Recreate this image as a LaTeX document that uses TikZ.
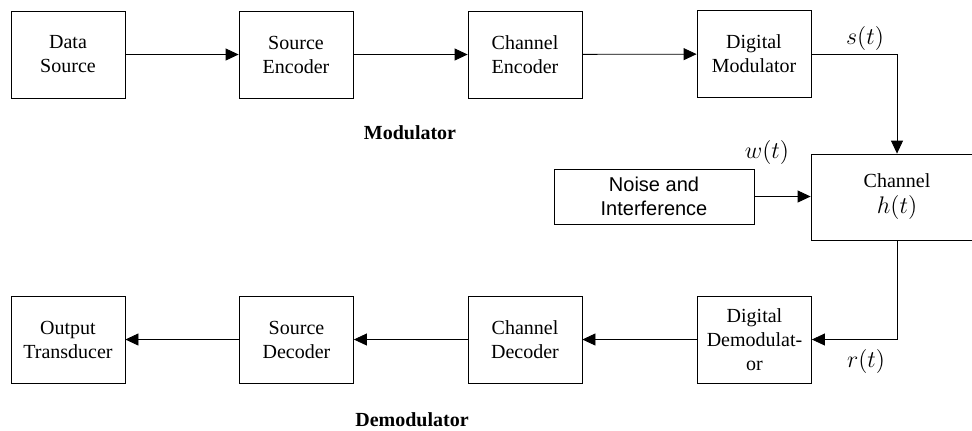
\documentclass[tikz,border=0pt]{standalone}
\usepackage[no-math]{fontspec}
\setmainfont{Liberation Serif}
\newfontfamily\noisefont{Liberation Sans}
\usetikzlibrary{arrows.meta}

\begin{document}
\begin{tikzpicture}
  [x=0.5pt,y=-0.5pt,>={Triangle[length=6.5pt,width=6pt]},
   blk/.style={draw,minimum width=57pt,minimum height=43.5pt,inner sep=0pt,align=center},
   sig/.style={font=\large}]
  \useasboundingbox (0,0) rectangle (972,430);

  \node[blk] (src)  at (68,54.5)   {Data\\Source};
  \node[blk] (senc) at (296,54.5)  {Source\\Encoder};
  \node[blk] (cenc) at (525,54.5)  {Channel\\Encoder};
  \node[blk] (mod)  at (754,54)    {Digital\\Modulator};

  \node[blk,minimum width=86pt,minimum height=43pt] (chan) at (897,197) {Channel\\[1pt]{\large$h(t)$}};
  \node[blk,minimum width=100pt,minimum height=27.5pt,font=\noisefont] (noise) at (654,196.5) {Noise and\\Interference};

  \node[blk] (demod) at (754.5,339.5) {Digital\\Demodulat-\\or};
  \node[blk] (cdec)  at (525,339.5)   {Channel\\Decoder};
  \node[blk] (sdec)  at (296.5,339.5) {Source\\Decoder};
  \node[blk] (out)   at (68,339.5)    {Output\\Transducer};

  \node[sig] (st) at (865,38)  {$s(t)$};
  \node[sig] (wt) at (767,152) {$w(t)$};
  \node[sig] (rt) at (866,361) {$r(t)$};

  \node[font=\bfseries] (modlbl)   at (410,133) {Modulator};
  \node[font=\bfseries] (demodlbl) at (412,420) {Demodulator};

  \foreach \from/\to in {src/senc,senc/cenc,cenc/mod,demod/cdec,cdec/sdec,sdec/out}
    \draw[->] (\from) -- (\to);

  \draw[->] (mod.east) -| (chan.north);
  \draw[->] (noise.east) -- (noise.east -| chan.west);
  \draw[->] (chan.south) |- (demod.east);

\end{tikzpicture}
\end{document}
